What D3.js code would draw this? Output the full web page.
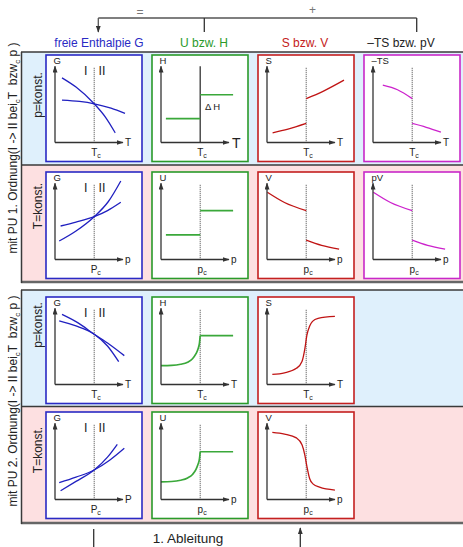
<!DOCTYPE html>
<html>
<head>
<meta charset="utf-8">
<script src="https://cdn.jsdelivr.net/npm/d3@7"></script>
<style>
  body { margin: 0; background: #fff; }
  svg { display: block; font-family: "Liberation Sans", Arial, sans-serif; }
</style>
</head>
<body>
<svg id="chart" width="463" height="547"></svg>
<script>
// ---- data (x/y in 0..100 panel units, crit point at x = 56) ----
const columnTitles = ["freie Enthalpie G", "U bzw. H", "S bzw. V", "–TS bzw. pV"];
const rowConditions = ["p=konst.", "T=konst.", "p=konst.", "T=konst."];
const orderTitles = ["mit PU 1. Ordnung", "mit PU 2. Ordnung"];
const critX = 56;

const yLabels = [["G", "H", "S", "–TS"], ["G", "U", "V", "pV"], ["G", "H", "S"], ["G", "U", "V"]];
const xLabels = [["T", "T", "T", "T"], ["p", "p", "p", "p"], ["T", "T", "T"], ["P", "p", "p"]];
const critLabels = [["T", "T", "T", "T"], ["P", "p", "p", "p"], ["T", "T", "T"], ["P", "p", "p"]];

// row 1: 1st order, p const
const g0a = [[10, 84], [30, 72], [56, 50.3], [72, 33], [86, 12.6]];
const g0b = [[10, 55], [35, 53.3], [56, 50.3], [80, 44.5], [100, 37.7]];
const h0lo = [[7, 31], [56, 31]];
const h0hi = [[56, 62], [103, 62]];
const s0lo = [[8, 12.6], [30, 17.3], [56, 24.7]];
const s0hi = [[56, 57], [80, 66.5], [110, 81]];
const ts0hi = [[14, 74.4], [35, 68.5], [56, 57]];
const ts0lo = [[56, 24.7], [76, 19.8], [97, 13.4]];
// row 2: 1st order, T const
const g1a = [[6, 24], [30, 37], [56, 55.6], [76, 75], [94, 102]];
const g1b = [[8, 43.5], [30, 48.5], [56, 55.6], [75, 63.5], [94, 74.3]];
const u1lo = [[7, 32], [56, 32]];
const u1hi = [[56, 63.4], [103, 63.4]];
const v1hi = [[0.5, 87.3], [25, 74], [56, 63.4]];
const v1lo = [[56, 25.3], [78, 18.5], [103, 13.6]];
const pv1hi = [[0.5, 87.3], [25, 74], [56, 63.4]];
const pv1lo = [[56, 25.3], [78, 18.5], [103, 13.6]];
// row 3: 2nd order, p const
const g2a = [[10, 91], [33, 80], [56, 65.3], [78, 52], [99, 37.5]];
const g2b = [[6, 82.5], [30, 76], [56, 65.3], [75, 50], [91, 29.6]];
const h2 = [[0, 24.4], [15, 24.8], [28, 26.3], [38, 29], [45, 33.5], [50, 40], [53, 46.5], [55, 54], [56, 63.4]];
const h2hi = [[56, 63.4], [103, 63.4]];
const s2 = [[7.6, 13.2], [25, 15.2], [42, 21], [50, 30], [54, 46], [57, 64], [61, 76], [65, 82], [73, 86], [97, 88.5]];
// row 4: 2nd order, T const
const g3a = [[8, 11.4], [30, 23.5], [56, 38.3], [75, 55], [89, 71.7]];
const g3b = [[6, 21.8], [30, 29], [56, 38.3], [78, 51], [99, 66.5]];
const u3 = [[0, 23], [15, 23.4], [28, 25], [38, 28], [45, 32.5], [50, 39], [53, 46], [55, 53], [56, 62]];
const u3hi = [[56, 62], [103, 62]];
const v3 = [[7.6, 87.3], [25, 85], [42, 80], [50, 71], [54, 58], [57, 43], [61, 27], [66, 20], [75, 16], [97, 12.3]];

const panelCurves = [
  [[g0a, g0b], [h0lo, h0hi], [s0lo, s0hi], [ts0hi, ts0lo]],
  [[g1a, g1b], [u1lo, u1hi], [v1hi, v1lo], [pv1hi, pv1lo]],
  [[g2a, g2b], [h2, h2hi], [s2]],
  [[g3a, g3b], [u3, u3hi], [v3]]
];

// ---- layout ----
const colColors = ["#2a2ac4", "#2a9a2a", "#c42020", "#c828c8"];
const curveColors = ["#2020c0", "#3aa83a", "#c01414", "#cc22cc"];
const colX = [46, 152, 258, 364];
const rowY = [55, 172, 297, 412];
const PW = 96, PH = 106.5;
const bandTop = [52, 165, 290, 406.5];
const bandBot = [165, 282, 406.5, 523];
const bandFill = ["#dff0fc", "#fde0e1", "#dff0fc", "#fde0e1"];
const condY = [95, 206, 325, 450];

const svg = d3.select("#chart");
const ink = "#333";

const defs = svg.append("defs");
defs.append("marker")
  .attr("id", "arr")
  .attr("viewBox", "0 0 10 10")
  .attr("refX", 9).attr("refY", 5)
  .attr("markerWidth", 7).attr("markerHeight", 5)
  .attr("markerUnits", "userSpaceOnUse")
  .attr("preserveAspectRatio", "none")
  .attr("orient", "auto")
  .append("path").attr("d", "M0,0L10,5L0,10z").attr("fill", ink);

// ---- bands ----
bandTop.forEach((t, i) => {
  svg.append("rect")
    .attr("x", 21).attr("y", t)
    .attr("width", 463 - 21).attr("height", bandBot[i] - t)
    .attr("fill", bandFill[i]);
});
[52, 165, 290, 406.5].forEach(yy => {
  svg.append("line").attr("x1", 21).attr("x2", 463).attr("y1", yy).attr("y2", yy)
    .attr("stroke", "#3a3a3a").attr("stroke-width", 1.5);
});
[282, 523].forEach(yy => {
  svg.append("line").attr("x1", 21).attr("x2", 463).attr("y1", yy).attr("y2", yy)
    .attr("stroke", "#666").attr("stroke-width", 2.5);
});
[[52, 283], [290, 524]].forEach(s => {
  svg.append("line").attr("x1", 21.5).attr("x2", 21.5).attr("y1", s[0]).attr("y2", s[1])
    .attr("stroke", "#3a3a3a").attr("stroke-width", 1.5);
});

// row condition labels (rotated)
rowConditions.forEach((t, i) => {
  svg.append("text")
    .attr("transform", `translate(42,${condY[i]}) rotate(-90)`)
    .attr("text-anchor", "middle")
    .attr("font-size", 12).attr("fill", "#222")
    .text(t);
});

// left order titles (rotated, with odd subscripts like the original)
orderTitles.forEach((t, i) => {
  const tx = svg.append("text")
    .attr("transform", `translate(16.5,${i === 0 ? 148 : 401}) rotate(-90)`)
    .attr("text-anchor", "middle")
    .attr("font-size", 12).attr("fill", "#222");
  tx.append("tspan").text(t + "(I -> II bei");
  tx.append("tspan").attr("font-size", 8).attr("dy", 3).text("c");
  tx.append("tspan").attr("dy", -3).text("T\u00a0\u00a0bzw");
  tx.append("tspan").attr("font-size", 8).attr("dy", 3).text("c");
  tx.append("tspan").attr("dy", -3).text(" p )");
});

// ---- header ----
const headX = [99, 204, 305, 401];
columnTitles.forEach((t, i) => {
  svg.append("text")
    .attr("x", headX[i]).attr("y", 46.5)
    .attr("text-anchor", "middle")
    .attr("font-size", 12)
    .attr("fill", i === 3 ? "#222" : colColors[i])
    .text(t);
});
svg.append("line").attr("x1", 98.3).attr("x2", 416.7).attr("y1", 18).attr("y2", 18)
  .attr("stroke", "#555").attr("stroke-width", 1.5);
svg.append("line").attr("x1", 98.3).attr("x2", 98.3).attr("y1", 18).attr("y2", 32)
  .attr("stroke", "#555").attr("stroke-width", 1.3).attr("marker-end", "url(#arr)");
[204.3, 416.7].forEach(xx => {
  svg.append("line").attr("x1", xx).attr("x2", xx).attr("y1", 18).attr("y2", 32)
    .attr("stroke", "#333").attr("stroke-width", 1.3);
});
svg.append("text").attr("x", 140).attr("y", 15.5).attr("text-anchor", "middle")
  .attr("font-size", 12).attr("fill", "#777").text("=");
svg.append("text").attr("x", 312.5).attr("y", 13.5).attr("text-anchor", "middle")
  .attr("font-size", 12).attr("fill", "#777").text("+");

// ---- footer ----
svg.append("line").attr("x1", 93.7).attr("x2", 93.7).attr("y1", 529).attr("y2", 547)
  .attr("stroke", "#333").attr("stroke-width", 1.3);
svg.append("line").attr("x1", 300.3).attr("x2", 300.3).attr("y1", 547).attr("y2", 528)
  .attr("stroke", "#333").attr("stroke-width", 1.3).attr("marker-end", "url(#arr)");
svg.append("text").attr("x", 188).attr("y", 543).attr("text-anchor", "middle")
  .attr("font-size", 13.5).attr("fill", "#222").text("1. Ableitung");

// ---- panels ----
function drawPanel(r, c) {
  const px = colX[c], py = rowY[r];
  const g = svg.append("g").attr("transform", `translate(${px},${py})`);
  const x = d3.scaleLinear().domain([0, 100]).range([9, 79]);
  const y = d3.scaleLinear().domain([0, 100]).range([87.5, 10.5]);
  const line = d3.line().x(d => x(d[0])).y(d => y(d[1])).curve(d3.curveMonotoneX);

  g.append("rect")
    .attr("width", PW).attr("height", PH)
    .attr("fill", "#fff")
    .attr("stroke", colColors[c]).attr("stroke-width", 1.6);

  // transition line
  const solid = (r === 0 && c === 1);
  g.append("line")
    .attr("x1", x(critX)).attr("x2", x(critX))
    .attr("y1", y(solid ? 99 : 97)).attr("y2", y(0))
    .attr("stroke", solid ? ink : "#444")
    .attr("stroke-width", solid ? 1.3 : 1)
    .attr("stroke-dasharray", solid ? null : "1,1");

  // curves
  panelCurves[r][c].forEach(pts => {
    g.append("path")
      .attr("d", line(pts))
      .attr("fill", "none")
      .attr("stroke", curveColors[c])
      .attr("stroke-width", c === 1 ? 1.7 : 1.3);
  });

  // axes
  g.append("line")
    .attr("x1", x(0)).attr("y1", y(0)).attr("x2", x(97)).attr("y2", y(0))
    .attr("stroke", ink).attr("stroke-width", 1.3).attr("marker-end", "url(#arr)");
  g.append("line")
    .attr("x1", x(0)).attr("y1", y(0)).attr("x2", x(0)).attr("y2", y(99))
    .attr("stroke", ink).attr("stroke-width", 1.3).attr("marker-end", "url(#arr)");

  // labels
  g.append("text").attr("x", 7.5).attr("y", 8.5)
    .attr("font-size", 9.5).attr("fill", "#222").text(yLabels[r][c]);
  const bigT = (r === 0 && c === 1);
  g.append("text").attr("x", x(97) + (bigT ? 3 : 2)).attr("y", y(0) + (bigT ? 5 : 3.5))
    .attr("font-size", bigT ? 14 : 10).attr("fill", "#222").text(xLabels[r][c]);
  g.append("text").attr("x", x(critX)).attr("y", y(0) + 13)
    .attr("text-anchor", "middle").attr("font-size", 10).attr("fill", "#222")
    .text(critLabels[r][c]);
  g.append("text").attr("x", x(critX) + 3).attr("y", y(0) + 15.5)
    .attr("font-size", 7).attr("fill", "#222").text("c");

  if (c === 0) {
    g.append("text").attr("x", x(44)).attr("y", 20).attr("text-anchor", "middle")
      .attr("font-size", 12.5).attr("fill", "#222").text("I");
    g.append("text").attr("x", x(67)).attr("y", 20).attr("text-anchor", "middle")
      .attr("font-size", 12.5).attr("fill", "#222").text("II");
  }
  if (r === 0 && c === 1) {
    g.append("text").attr("x", x(63)).attr("y", y(42))
      .attr("font-size", 9.5).attr("fill", "#222").text("Δ\u2009H");
  }
}

panelCurves.forEach((row, r) => row.forEach((_, c) => drawPanel(r, c)));
</script>
</body>
</html>
